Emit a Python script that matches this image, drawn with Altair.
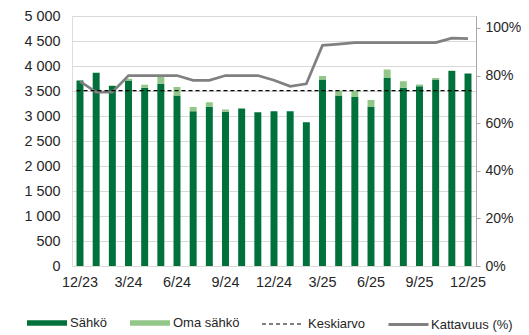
import altair as alt
import pandas as pd

months = ["12/23", "1/24", "2/24", "3/24", "4/24", "5/24", "6/24", "7/24", "8/24", "9/24",
          "10/24", "11/24", "12/24", "1/25", "2/25", "3/25", "4/25", "5/25", "6/25", "7/25",
          "8/25", "9/25", "10/25", "11/25", "12/25"]
sahko = [3710, 3865, 3600, 3710, 3565, 3645, 3410, 3095, 3185, 3085, 3150, 3075, 3095,
         3095, 2875, 3730, 3410, 3380, 3180, 3760, 3565, 3595, 3730, 3900, 3850]
oma = [0, 0, 10, 35, 60, 140, 170, 85, 90, 45, 10, 0, 0,
       0, 0, 70, 100, 130, 140, 170, 130, 35, 30, 10, 0]
kattavuus = [77.5, 73, 73, 80, 80, 80, 80, 78, 78, 80, 80, 80, 78,
             75.5, 76.5, 92.7, 93.2, 93.8, 93.8, 93.8, 93.8, 93.8, 93.8, 95.7, 95.5]
x_ticks = ["12/23", "3/24", "6/24", "9/24", "12/24", "3/25", "6/25", "9/25", "12/25"]
y_ticks = [0, 500, 1000, 1500, 2000, 2500, 3000, 3500, 4000, 4500, 5000]
pct_ticks = [0, 0.2, 0.4, 0.6, 0.8, 1.0]
series = ["Sähkö", "Oma sähkö"]
colors = ["#00713a", "#92c789"]

FONT = "Liberation Sans"
TXT = "#262626"
AX = 14.4

wide = pd.DataFrame({"month": months, "sahko": sahko, "oma": oma,
                     "kattavuus": [v / 100 for v in kattavuus]})
wide["total"] = wide["sahko"] + wide["oma"]

long_rows = []
for i, m in enumerate(months):
    long_rows.append({"month": m, "sarja": series[0], "value": sahko[i], "ord": 0})
    long_rows.append({"month": m, "sarja": series[1], "value": oma[i], "ord": 1})
long = pd.DataFrame(long_rows)

xscale = alt.Scale(domain=months, type="band", paddingInner=0.57, paddingOuter=0.28)

LY = 287

bars = alt.Chart(long).mark_bar().encode(
    x=alt.X("month:N", scale=xscale, sort=months,
            axis=alt.Axis(values=x_ticks, labelAngle=0, ticks=False, domain=True,
                          domainColor="#d9d9d9", labelPadding=9, title=None,
                          labelFontSize=AX, labelColor=TXT, labelFont=FONT)),
    y=alt.Y("value:Q", stack="zero", scale=alt.Scale(domain=[0, 5000], nice=False),
            axis=alt.Axis(values=y_ticks, title=None, domain=False, ticks=False,
                          grid=True, gridColor="#d9d9d9", labelPadding=12,
                          labelFontSize=AX, labelColor=TXT, labelFont=FONT,
                          labelExpr="replace(format(datum.value, ',d'), ',', ' ')")),
    fill=alt.Fill("sarja:N", scale=alt.Scale(domain=series, range=colors),
                  legend=alt.Legend(orient="none", legendX=-45, legendY=LY,
                                    direction="horizontal", title=None,
                                    symbolType="M-1,-0.14H1V0.14H-1Z", symbolSize=1600,
                                    symbolStrokeWidth=0, symbolOpacity=1,
                                    labelFontSize=13, labelFont=FONT, labelColor=TXT,
                                    labelOffset=3, columnPadding=23)),
    order=alt.Order("ord:Q"),
)

mean_rule = alt.Chart(wide).transform_aggregate(
    avg="mean(total)"
).transform_calculate(
    a=f'"{months[0]}"', b=f'"{months[-1]}"', lab='"Keskiarvo"'
).mark_rule(color="black", strokeWidth=1.2).encode(
    x=alt.X("a:N", scale=xscale, bandPosition=0),
    x2=alt.X2("b:N", bandPosition=1),
    y=alt.Y("avg:Q", scale=alt.Scale(domain=[0, 5000], nice=False), axis=None),
    strokeDash=alt.StrokeDash("lab:N", scale=alt.Scale(range=[[4, 3]]),
                              legend=alt.Legend(orient="none", legendX=189, legendY=LY,
                                                title=None, symbolType="stroke",
                                                symbolSize=1600, symbolStrokeColor="black",
                                                symbolStrokeWidth=1.2,
                                                labelFontSize=13, labelFont=FONT,
                                                labelColor=TXT, labelOffset=5)),
)

cov = alt.Chart(wide).transform_calculate(lab='"Kattavuus (%)"').mark_line(
    strokeWidth=2.75).encode(
    x=alt.X("month:N", scale=xscale, sort=months),
    y=alt.Y("kattavuus:Q", scale=alt.Scale(domain=[0, 1.05], nice=False),
            axis=alt.Axis(orient="right", values=pct_ticks, format=".0%", title=None,
                          grid=False, domain=True, domainColor="#a6a6a6", ticks=True,
                          tickColor="#a6a6a6", tickSize=4, labelPadding=5,
                          labelFontSize=14, labelColor=TXT, labelFont=FONT)),
    stroke=alt.Stroke("lab:N", scale=alt.Scale(range=["#808080"]),
                      legend=alt.Legend(orient="none", legendX=315, legendY=LY,
                                        title=None, symbolType="stroke", symbolSize=1600,
                                        symbolStrokeWidth=3,
                                        labelFontSize=13, labelFont=FONT,
                                        labelColor=TXT, labelOffset=1)),
)

chart = alt.layer(bars, cov, mean_rule).resolve_scale(y="independent").properties(
    width=404, height=250,
    autosize=alt.AutoSizeParams(type="none"),
    padding={"left": 64, "top": 8, "right": 45, "bottom": 66},
).configure_view(stroke=None).configure(background="white")

chart.save("out.html", embed_options={"renderer": "svg", "actions": False})
